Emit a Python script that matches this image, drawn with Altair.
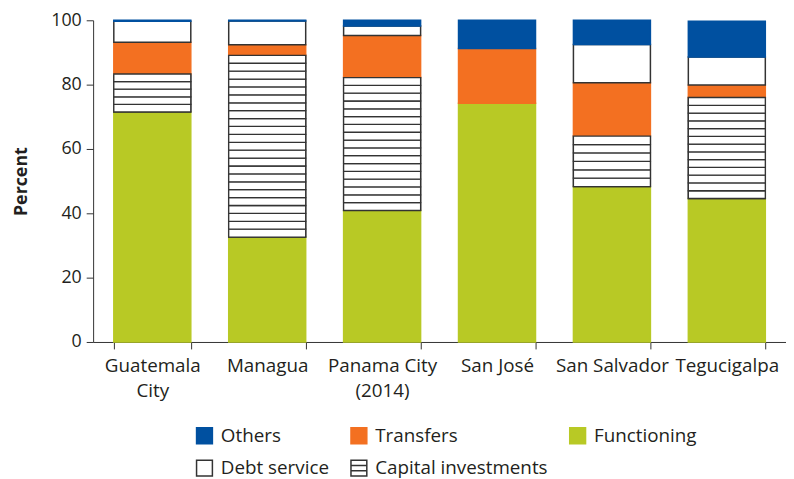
import altair as alt
import pandas as pd

cities = ["Guatemala City", "Managua", "Panama City (2014)", "San José", "San Salvador", "Tegucigalpa"]
functioning = [71.5, 32.6, 40.9, 74.2, 48.3, 44.6]
capital = [11.8, 56.5, 41.3, 0.0, 15.7, 31.4]
transfers = [9.9, 3.3, 13.1, 17.0, 16.6, 3.9]
debt = [6.5, 7.4, 2.9, 0.0, 11.9, 8.7]
others = [0.3, 0.2, 1.8, 8.8, 7.5, 11.1]

stack_order = ["Functioning", "Capital investments", "Transfers", "Debt service", "Others"]
# legend is filled column by column (2 rows x 3 columns)
legend_order = ["Others", "Debt service", "Transfers", "Capital investments", "Functioning"]
fill_map = {"Others": "#0050a0", "Transfers": "#f37021", "Functioning": "#b8c925",
            "Debt service": "#ffffff", "Capital investments": "#ffffff"}
stroke_map = {"Others": "#0050a0", "Transfers": "#f37021", "Functioning": "#b8c925",
              "Debt service": "#333333", "Capital investments": "#333333"}
SQUARE = "M-1,-1H1V1H-1Z"
HATCH = "M-1,-1H1V1H-1Z M-1,-0.33H1 M-1,0.33H1"
shape_map = {"Others": SQUARE, "Transfers": SQUARE, "Functioning": SQUARE,
             "Debt service": SQUARE, "Capital investments": HATCH}

series = {"Functioning": functioning, "Capital investments": capital, "Transfers": transfers,
          "Debt service": debt, "Others": others}

rows = []
stripes = []
for i, c in enumerate(cities):
    base = 0.0
    for comp in stack_order:
        v = series[comp][i]
        if v > 0:
            rows.append({"city": c, "component": comp, "y0": base, "y1": base + v})
            if comp == "Capital investments":
                n = max(1, round(v / 2.5))
                h = v / n
                for k in range(n):
                    stripes.append({"city": c, "s0": base + k * h, "s1": base + (k + 1) * h})
        base += v
df = pd.DataFrame(rows)
sdf = pd.DataFrame(stripes)

FONT = "Open Sans"
TXT = "#231f20"

fill_scale = alt.Scale(domain=legend_order, range=[fill_map[k] for k in legend_order])
stroke_scale = alt.Scale(domain=legend_order, range=[stroke_map[k] for k in legend_order])
shape_scale = alt.Scale(domain=legend_order, range=[shape_map[k] for k in legend_order])
LEG = alt.Legend(title=None, orient="none", legendX=103, legendY=410, columns=3,
                 columnPadding=18, rowPadding=10, symbolSize=256, labelLimit=400,
                 symbolStrokeWidth=1.5, labelFontSize=19, labelFont=FONT,
                 labelColor=TXT, labelOffset=7, padding=0, symbolType="square")

xenc = alt.X("city:N", sort=cities, title=None,
             scale=alt.Scale(paddingInner=0.33, paddingOuter=0.18),
             axis=alt.Axis(labelAngle=0, labelFontSize=19, labelFont=FONT, labelColor=TXT,
                           tickBand="extent", tickSize=7, tickColor="#333", domainColor="#333",
                           labelPadding=8, labelLineHeight=25,
                           labelExpr="datum.label == 'Guatemala City' ? ['Guatemala', 'City'] : datum.label == 'Panama City (2014)' ? ['Panama City', '(2014)'] : datum.label"))
yscale = alt.Scale(domain=[0, 100])

bars = alt.Chart(df).mark_bar(strokeWidth=1.5).encode(
    x=xenc,
    y=alt.Y("y0:Q", scale=yscale, title="Percent",
            axis=alt.Axis(values=[0, 20, 40, 60, 80, 100], grid=False, tickSize=7,
                          tickColor="#333", domainColor="#333", labelFontSize=18,
                          labelFont=FONT, labelColor=TXT, labelPadding=5,
                          titleFont=FONT, titleFontSize=18, titleFontWeight="bold",
                          titleColor=TXT, titlePadding=20)),
    y2="y1:Q",
    fill=alt.Fill("component:N", scale=fill_scale, legend=LEG),
    stroke=alt.Stroke("component:N", scale=stroke_scale, legend=LEG),
)

hatch = alt.Chart(sdf).mark_bar(fill="white", stroke="#333333", strokeWidth=1.3).encode(
    x=alt.X("city:N", sort=cities),
    y=alt.Y("s0:Q", scale=yscale),
    y2="s1:Q",
)

legend_layer = alt.Chart(df).transform_filter("false").mark_point(filled=True, size=256, opacity=1).encode(
    x=alt.X("city:N", sort=cities),
    y=alt.Y("y0:Q", scale=yscale),
    fill=alt.Fill("component:N", scale=fill_scale, legend=LEG),
    stroke=alt.Stroke("component:N", scale=stroke_scale, legend=LEG),
    shape=alt.Shape("component:N", scale=shape_scale, legend=LEG),
)

chart = alt.layer(bars, hatch, legend_layer).properties(
    width=700, height=325,
    autosize=alt.AutoSizeParams(type="none"),
    padding={"left": 86, "top": 10, "right": 0, "bottom": 136},
).configure_view(stroke=None)

chart.save("out.html", embed_options={"renderer": "svg", "actions": False})
